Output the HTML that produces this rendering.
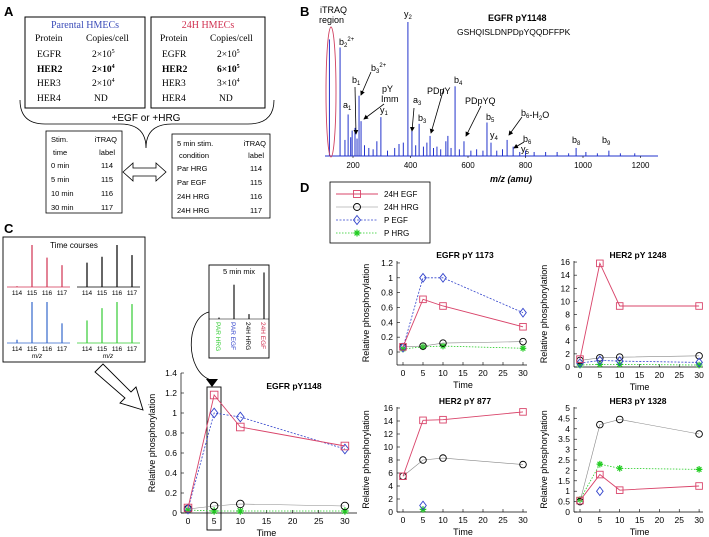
<!DOCTYPE html>
<html><head><meta charset="utf-8">
<style>
html,body{margin:0;padding:0;background:#fff;}
svg{display:block;font-family:"Liberation Sans",sans-serif;}
.serif{font-family:"Liberation Serif",serif;}
</style></head>
<body>
<svg id="fig" width="709" height="537" viewBox="0 0 709 537" xmlns="http://www.w3.org/2000/svg">
<defs>
<marker id="ah" markerWidth="6" markerHeight="6" refX="5" refY="3" orient="auto"><path d="M0,0 L6,3 L0,6 z" fill="#000"/></marker>
</defs>

<!-- PANEL A -->
<g>
<text x="4" y="16" font-size="13" font-weight="bold">A</text>
<g class="serif" font-size="9.5">
<rect x="25" y="17" width="120" height="91" fill="none" stroke="#000" stroke-width="1"/>
<text x="85" y="28" text-anchor="middle" fill="#3a4bb8" font-size="10">Parental HMECs</text>
<text x="35" y="41">Protein</text><text x="86" y="41">Copies/cell</text>
<text x="37" y="57">EGFR</text><text x="92" y="57">2×10<tspan font-size="6" dy="-4">5</tspan></text>
<text x="37" y="72" font-weight="bold">HER2</text><text x="92" y="72" font-weight="bold">2×10<tspan font-size="6" dy="-4">4</tspan></text>
<text x="37" y="86">HER3</text><text x="92" y="86">2×10<tspan font-size="6" dy="-4">4</tspan></text>
<text x="37" y="101">HER4</text><text x="94" y="101">ND</text>
</g>
<g class="serif" font-size="9.5">
<rect x="151" y="17" width="114" height="91" fill="none" stroke="#000" stroke-width="1"/>
<text x="208" y="28" text-anchor="middle" fill="#d03050" font-size="10">24H HMECs</text>
<text x="160" y="41">Protein</text><text x="210" y="41">Copies/cell</text>
<text x="162" y="57">EGFR</text><text x="217" y="57">2×10<tspan font-size="6" dy="-4">5</tspan></text>
<text x="162" y="72" font-weight="bold">HER2</text><text x="217" y="72" font-weight="bold">6×10<tspan font-size="6" dy="-4">5</tspan></text>
<text x="162" y="86">HER3</text><text x="217" y="86">3×10<tspan font-size="6" dy="-4">4</tspan></text>
<text x="162" y="101">HER4</text><text x="219" y="101">ND</text>
</g>
<path d="M20,100 Q20,124 45,124 L120,124 Q146,124 146,148 Q146,124 172,124 L248,124 Q274,124 274,100" fill="none" stroke="#000" stroke-width="0.8"/>
<text x="146" y="121" text-anchor="middle" font-size="10">+EGF or +HRG</text>
<g font-size="7.5">
<rect x="46" y="131" width="76" height="82" fill="none" stroke="#000" stroke-width="0.8"/>
<text x="51" y="142">Stim.</text><text x="117" y="142" text-anchor="end">iTRAQ</text>
<text x="53" y="155">time</text><text x="115" y="155" text-anchor="end">label</text>
<text x="51" y="168">0 min</text><text x="113" y="168" text-anchor="end">114</text>
<text x="51" y="182">5 min</text><text x="113" y="182" text-anchor="end">115</text>
<text x="51" y="196">10 min</text><text x="113" y="196" text-anchor="end">116</text>
<text x="51" y="210">30 min</text><text x="113" y="210" text-anchor="end">117</text>
</g>
<path d="M123,172 L133,163 L133,168 L156,168 L156,163 L166,172 L156,181 L156,176 L133,176 L133,181 Z" fill="#fff" stroke="#000" stroke-width="0.8"/>
<g font-size="7.5">
<rect x="172" y="134" width="98" height="84" fill="none" stroke="#000" stroke-width="0.8"/>
<text x="177" y="146">5 min stim.</text><text x="266" y="146" text-anchor="end">iTRAQ</text>
<text x="179" y="158">condition</text><text x="264" y="158" text-anchor="end">label</text>
<text x="177" y="171">Par HRG</text><text x="262" y="171" text-anchor="end">114</text>
<text x="177" y="185">Par EGF</text><text x="262" y="185" text-anchor="end">115</text>
<text x="177" y="199">24H HRG</text><text x="262" y="199" text-anchor="end">116</text>
<text x="177" y="213">24H HRG</text><text x="262" y="213" text-anchor="end">117</text>
</g>
</g>

<!-- PANEL B -->
<g id="panelB">
<text x="300" y="16" font-size="13" font-weight="bold">B</text>
<text x="320" y="13" font-size="9">iTRAQ</text>
<text x="319" y="23" font-size="9">region</text>
<text x="488" y="21" font-size="9" font-weight="bold">EGFR    pY1148</text>
<text x="457" y="35" font-size="8.5">GSHQISLDNPDpYQQDFFPK</text>
<g id="specPeaks"></g>
<line x1="325" y1="156" x2="658" y2="156" stroke="#2233cc" stroke-width="1"/>
<ellipse cx="331" cy="92" rx="5" ry="65" fill="none" stroke="#d04060" stroke-width="0.9"/>
<g id="specAxis" font-size="8"></g>
<text x="490" y="182" font-size="9" font-weight="bold" font-style="italic">m/z (amu)</text>
<g font-size="9">
<text x="404" y="17">y<tspan font-size="6" dy="2">2</tspan></text>
<text x="339" y="45">b<tspan font-size="6" dy="2">2</tspan><tspan font-size="6" dy="-6">2+</tspan></text>
<text x="371" y="71">b<tspan font-size="6" dy="2">3</tspan><tspan font-size="6" dy="-6">2+</tspan></text>
<text x="352" y="83">b<tspan font-size="6" dy="2">1</tspan></text>
<text x="382" y="92">pY</text><text x="381" y="102">Imm</text>
<text x="343" y="108">a<tspan font-size="6" dy="2">1</tspan></text>
<text x="380" y="113">y<tspan font-size="6" dy="2">1</tspan></text>
<text x="413" y="103">a<tspan font-size="6" dy="2">3</tspan></text>
<text x="418" y="121">b<tspan font-size="6" dy="2">3</tspan></text>
<text x="427" y="94">PDpY</text>
<text x="454" y="83">b<tspan font-size="6" dy="2">4</tspan></text>
<text x="465" y="104">PDpYQ</text>
<text x="486" y="120">b<tspan font-size="6" dy="2">5</tspan></text>
<text x="490" y="138">y<tspan font-size="6" dy="2">4</tspan></text>
<text x="521" y="116">b<tspan font-size="6" dy="2">6</tspan>-H<tspan font-size="6" dy="2">2</tspan><tspan dy="-2">O</tspan></text>
<text x="523" y="142">b<tspan font-size="6" dy="2">6</tspan></text>
<text x="521" y="152">y<tspan font-size="6" dy="2">5</tspan></text>
<text x="112" y="0" display="none"></text>
<text x="572" y="143">b<tspan font-size="6" dy="2">8</tspan></text>
<text x="602" y="143">b<tspan font-size="6" dy="2">9</tspan></text>
<text x="115" y="0" display="none"></text>
</g>
<text x="115" y="0" display="none"></text>
<g stroke="#000" stroke-width="0.8" marker-end="url(#ah)">
<line x1="355" y1="87" x2="356" y2="134"/>
<line x1="371" y1="72" x2="361" y2="95"/>
<line x1="384" y1="104" x2="364" y2="119"/>
<line x1="414" y1="108" x2="412" y2="131"/>
<line x1="444" y1="88" x2="431" y2="133"/>
<line x1="481" y1="106" x2="466" y2="136"/>
<line x1="522" y1="117" x2="509" y2="135"/>
<line x1="524" y1="142" x2="514" y2="148"/>
</g>
</g>

<!-- PANEL C -->
<g id="panelC">
<text x="4" y="233" font-size="13" font-weight="bold">C</text>
<rect x="3" y="237" width="142" height="125" fill="none" stroke="#000" stroke-width="0.9"/>
<text x="74" y="248" font-size="8" text-anchor="middle">Time courses</text>
<g id="miniSpectra"></g>
<text x="37" y="358" font-size="6.5" font-style="italic" text-anchor="middle">m/z</text>
<text x="108" y="358" font-size="6.5" font-style="italic" text-anchor="middle">m/z</text>
<rect x="209" y="265" width="60" height="93" fill="none" stroke="#000" stroke-width="0.9"/>
<text x="239" y="274" font-size="7.5" text-anchor="middle">5 min mix</text>
<line x1="209" y1="319" x2="269" y2="319" stroke="#000" stroke-width="0.6"/>
<g id="mixPeaks"></g>
<g font-size="6.5">
<text transform="translate(216,322) rotate(90)" fill="#33cc33">PAR HRG</text>
<text transform="translate(231,322) rotate(90)" fill="#3344cc">PAR EGF</text>
<text transform="translate(246,322) rotate(90)" fill="#000">24H HRG</text>
<text transform="translate(261,322) rotate(90)" fill="#d03050">24H EGF</text>
</g>
<path d="M209,312 C185,318 185,372 211,380" fill="none" stroke="#000" stroke-width="0.8"/>
<path d="M206,379 L218,379 L212,387 Z" fill="#000"/>
<path d="M95,372 L103,364 L131,392 L136,387 L143,410 L120,403 L125,398 Z" fill="#fff" stroke="#000" stroke-width="0.9"/>
<rect x="207" y="387" width="14" height="143" fill="none" stroke="#000" stroke-width="0.9"/>
<g id="chartC"></g>
</g>

<!-- PANEL D -->
<g id="panelD">
<text x="300" y="192" font-size="13" font-weight="bold">D</text>
<g>
<rect x="330" y="182" width="100" height="61" fill="#fff" stroke="#000" stroke-width="0.8"/>
<g id="legendItems" font-size="8"></g>
</g>
<g id="chartD"></g>
</g>
</svg>

<script>
// ---------- data ----------
const specMz = [118, 155, 172, 183, 192, 197, 207, 214, 221, 228, 240, 255, 270, 283, 297, 320, 345, 360, 375, 391, 405, 418, 430, 445, 457, 468, 480, 492, 505, 523, 530, 541, 555, 570, 586, 610, 630, 652, 666, 680, 700, 720, 736, 757, 780, 800, 830, 870, 910, 950, 976, 1010, 1050, 1090, 1130, 1180];
const specIntensity = [87, 81, 12, 31, 14, 19, 21, 13, 45, 26, 8, 6, 5, 11, 29, 4, 6, 9, 10, 100, 19, 8, 24, 7, 10, 15, 6, 7, 5, 11, 15, 6, 52, 5, 11, 4, 5, 4, 25, 10, 4, 5, 12, 7, 3, 4, 3, 3, 3, 2, 6, 3, 2, 4, 2, 2];
const specTicks = [200, 400, 600, 800, 1000, 1200];

const channels = ["114", "115", "116", "117"];
const tcRed = [2, 100, 70, 52];
const tcBlack = [58, 72, 100, 76];
const tcBlue = [8, 100, 100, 48];
const tcGreen = [55, 85, 100, 95];
const mixHeights = [3, 70, 10, 95];

const times = [0, 5, 10, 30];
const cEgf24 = [0.05, 1.18, 0.86, 0.67];
const cHrg24 = [0.04, 0.07, 0.09, 0.07];
const cEgfP = [0.04, 1.0, 0.96, 0.64];
const cHrgP = [0.03, 0.02, 0.02, 0.02];
const cYTicks = [0, 0.2, 0.4, 0.6, 0.8, 1, 1.2, 1.4];
const xTicks = [0, 5, 10, 15, 20, 25, 30];

const d1Egf24 = [0.07, 0.71, 0.62, 0.34];
const d1Hrg24 = [0.07, 0.08, 0.12, 0.14];
const d1EgfP = [0.06, 1.0, 1.0, 0.53];
const d1HrgP = [0.04, 0.07, 0.08, 0.05];
const d1YTicks = [0, 0.2, 0.4, 0.6, 0.8, 1, 1.2];

const d2Egf24 = [1.2, 15.8, 9.3, 9.3];
const d2Hrg24 = [1.0, 1.4, 1.5, 1.7];
const d2EgfP = [0.6, 1.0, 0.9, 0.7];
const d2HrgP = [0.3, 0.4, 0.4, 0.3];
const d2YTicks = [0, 2, 4, 6, 8, 10, 12, 14, 16];

const d3Egf24 = [5.5, 14.1, 14.2, 15.4];
const d3Hrg24 = [5.5, 8.0, 8.3, 7.3];
const d3EgfP = [null, 1.0, null, null];
const d3HrgP = [null, 0.4, null, null];
const d3YTicks = [0, 2, 4, 6, 8, 10, 12, 14, 16];

const d4Egf24 = [0.55, 1.8, 1.05, 1.25];
const d4Hrg24 = [0.5, 4.2, 4.45, 3.75];
const d4EgfP = [null, 1.0, null, null];
const d4HrgP = [0.6, 2.3, 2.1, 2.05];
const d4YTicks = [0, 0.5, 1, 1.5, 2, 2.5, 3, 3.5, 4, 4.5, 5];

// ---------- helpers ----------
const NS = "http://www.w3.org/2000/svg";
function mk(parent, tag, attrs, text) {
  const e = document.createElementNS(NS, tag);
  for (const k in attrs) e.setAttribute(k, attrs[k]);
  if (text !== undefined) e.textContent = text;
  parent.appendChild(e);
  return e;
}

// ---------- spectrum B ----------
const specX = mz => 295.5 + mz * 0.2875;
const specY = v => 156 - v * 1.34;
const sp = document.getElementById("specPeaks");
specMz.forEach((mz, i) => {
  const l = mk(sp, "line", {x1: specX(mz), x2: specX(mz), y1: 156, y2: specY(specIntensity[i]), stroke: "#2233cc", "stroke-width": 1});
  
  
});
const sa = document.getElementById("specAxis");
specTicks.forEach(t => {
  mk(sa, "line", {x1: specX(t), x2: specX(t), y1: 156, y2: 158, stroke: "#000", "stroke-width": 0.6});
  const tx = mk(sa, "text", {x: specX(t), y: 168, "text-anchor": "middle"}, String(t));
  
  
});

// ---------- mini spectra C ----------
const ms = document.getElementById("miniSpectra");
function miniSpec(x0, base, top, vals, color) {
  mk(ms, "line", {x1: x0 - 10, x2: x0 + 53, y1: base, y2: base, stroke: color, "stroke-width": 0.8});
  vals.forEach((v, i) => {
    const x = x0 + i * 15;
    const p = mk(ms, "line", {x1: x, x2: x, y1: base, y2: base - v / 100 * (base - top), stroke: color, "stroke-width": 1.2});
    
    
    const t = mk(ms, "text", {x: x, y: base + 8, "font-size": 6.5, "text-anchor": "middle"}, channels[i]);
    
    
  });
}
miniSpec(17, 287, 245, tcRed, "#d03050");
miniSpec(87, 287, 245, tcBlack, "#000");
miniSpec(17, 343, 302, tcBlue, "#3366cc");
miniSpec(87, 343, 302, tcGreen, "#33cc33");

const mp = document.getElementById("mixPeaks");
mixHeights.forEach((v, i) => {
  const x = 219 + i * 15;
  const p = mk(mp, "line", {x1: x, x2: x, y1: 319, y2: 319 - v / 100 * 49, stroke: "#000", "stroke-width": 1.1});
  
  
});

// ---------- line charts ----------
const styles = {
  egf24: {color: "#d9446a", dash: "", marker: "square", lw: 0.9},
  hrg24: {color: "#000", line: "#888", dash: "", marker: "circle", lw: 0.6},
  egfP: {color: "#3344cc", dash: "2,1.5", marker: "diamond", lw: 0.8},
  hrgP: {color: "#22cc22", dash: "1.5,1.5", marker: "star", lw: 0.8}
};
function marker(g, type, x, y, color, s) {
  let e;
  if (type === "square") e = mk(g, "rect", {x: x - s, y: y - s, width: 2 * s, height: 2 * s, fill: "none", stroke: color, "stroke-width": 0.9});
  else if (type === "circle") e = mk(g, "circle", {cx: x, cy: y, r: s, fill: "none", stroke: color, "stroke-width": 0.9});
  else if (type === "diamond") e = mk(g, "path", {d: `M${x},${y - s - 1}L${x + s},${y}L${x},${y + s + 1}L${x - s},${y}Z`, fill: "none", stroke: color, "stroke-width": 0.9});
  else e = mk(g, "path", {d: `M${x - s},${y}L${x + s},${y}M${x},${y - s}L${x},${y + s}M${x - s * 0.7},${y - s * 0.7}L${x + s * 0.7},${y + s * 0.7}M${x - s * 0.7},${y + s * 0.7}L${x + s * 0.7},${y - s * 0.7}`, fill: "none", stroke: color, "stroke-width": 1.2});
  
  
}
function chart(host, cfg, series, yTicks, title, name) {
  const g = mk(host, "g", {});
  
  
  const X = t => cfg.x0 + t * cfg.xs;
  const Y = v => cfg.y0 - v * cfg.ys;
  mk(g, "line", {x1: cfg.axL, x2: cfg.axL, y1: cfg.axB, y2: cfg.axT, stroke: "#000", "stroke-width": 0.7});
  mk(g, "line", {x1: cfg.axL, x2: cfg.axR, y1: cfg.axB, y2: cfg.axB, stroke: "#000", "stroke-width": 0.7});
  yTicks.forEach(v => {
    mk(g, "line", {x1: cfg.axL, x2: cfg.axL + 3, y1: Y(v), y2: Y(v), stroke: "#000", "stroke-width": 0.6});
    const t = mk(g, "text", {x: cfg.axL - 4, y: Y(v) + 3, "font-size": 8.5, "text-anchor": "end"}, String(v));
    
    
  });
  xTicks.forEach(v => {
    mk(g, "line", {x1: X(v), x2: X(v), y1: cfg.axB, y2: cfg.axB - 3, stroke: "#000", "stroke-width": 0.6});
    const t = mk(g, "text", {x: X(v), y: cfg.axB + 11, "font-size": 8.5, "text-anchor": "middle"}, String(v));
    
    
  });
  const tt = mk(g, "text", {x: cfg.tx, y: cfg.ty, "font-size": 8.5, "font-weight": "bold", "text-anchor": "middle"}, title);
  
  
  const xl = mk(g, "text", {x: (X(0) + X(30)) / 2, y: cfg.axB + 23, "font-size": 9, "text-anchor": "middle"}, "Time");
  
  
  const yl = mk(g, "text", {transform: `translate(${cfg.ylx},${(cfg.axB + cfg.axT) / 2}) rotate(-90)`, "font-size": 9, "text-anchor": "middle"}, "Relative phosphorylation");
  
  
  series.forEach(([vals, key]) => {
    const st = styles[key];
    const pts = [];
    vals.forEach((v, i) => { if (v !== null) pts.push([X(times[i]), Y(v)]); });
    if (pts.length > 1) {
      const pl = mk(g, "polyline", {points: pts.map(p => p.join(",")).join(" "), fill: "none", stroke: st.line || st.color, "stroke-width": st.lw, "stroke-dasharray": st.dash});
      
      
    }
    pts.forEach(p => marker(g, st.marker, p[0], p[1], st.color, cfg.ms));
  });
}
const cHost = document.getElementById("chartC");
chart(cHost, {x0: 188, xs: 5.23, y0: 513, ys: 100, axL: 181, axR: 357, axB: 513, axT: 373, tx: 294, ty: 389, ylx: 155, ms: 3.8},
  [[cHrgP, "hrgP"], [cHrg24, "hrg24"], [cEgfP, "egfP"], [cEgf24, "egf24"]], cYTicks, "EGFR pY1148", "chart-egfr-py1148");

const dHost = document.getElementById("chartD");
chart(dHost, {x0: 403, xs: 4.0, y0: 352, ys: 74.2, axL: 397, axR: 527, axB: 365, axT: 261, tx: 465, ty: 258, ylx: 369, ms: 3.3},
  [[d1HrgP, "hrgP"], [d1Hrg24, "hrg24"], [d1EgfP, "egfP"], [d1Egf24, "egf24"]], d1YTicks, "EGFR pY 1173", "chart-egfr-py1173");
chart(dHost, {x0: 580, xs: 3.97, y0: 367, ys: 6.56, axL: 574, axR: 703, axB: 367, axT: 261, tx: 638, ty: 258, ylx: 547, ms: 3.3},
  [[d2HrgP, "hrgP"], [d2Hrg24, "hrg24"], [d2EgfP, "egfP"], [d2Egf24, "egf24"]], d2YTicks, "HER2 pY 1248", "chart-her2-py1248");
chart(dHost, {x0: 403, xs: 4.0, y0: 512, ys: 6.5, axL: 397, axR: 527, axB: 512, axT: 407, tx: 465, ty: 404, ylx: 369, ms: 3.3},
  [[d3HrgP, "hrgP"], [d3Hrg24, "hrg24"], [d3EgfP, "egfP"], [d3Egf24, "egf24"]], d3YTicks, "HER2 pY 877", "chart-her2-py877");
chart(dHost, {x0: 580, xs: 3.97, y0: 512, ys: 20.8, axL: 574, axR: 703, axB: 512, axT: 407, tx: 638, ty: 404, ylx: 547, ms: 3.3},
  [[d4HrgP, "hrgP"], [d4Hrg24, "hrg24"], [d4EgfP, "egfP"], [d4Egf24, "egf24"]], d4YTicks, "HER3 pY 1328", "chart-her3-py1328");

// legend
const lg = document.getElementById("legendItems");
const legendKeys = ["egf24", "hrg24", "egfP", "hrgP"];
const legendLabels = ["24H EGF", "24H HRG", "P EGF", "P HRG"];
legendKeys.forEach((k, i) => {
  const y = 194 + i * 13;
  const st = styles[k];
  mk(lg, "line", {x1: 336, x2: 378, y1: y, y2: y, stroke: st.line || st.color, "stroke-width": st.lw, "stroke-dasharray": st.dash});
  marker(lg, st.marker, 357, y, st.color, 3.5);
  const t = mk(lg, "text", {x: 384, y: y + 3}, legendLabels[i]);
  
  
});
</script>
</body></html>
